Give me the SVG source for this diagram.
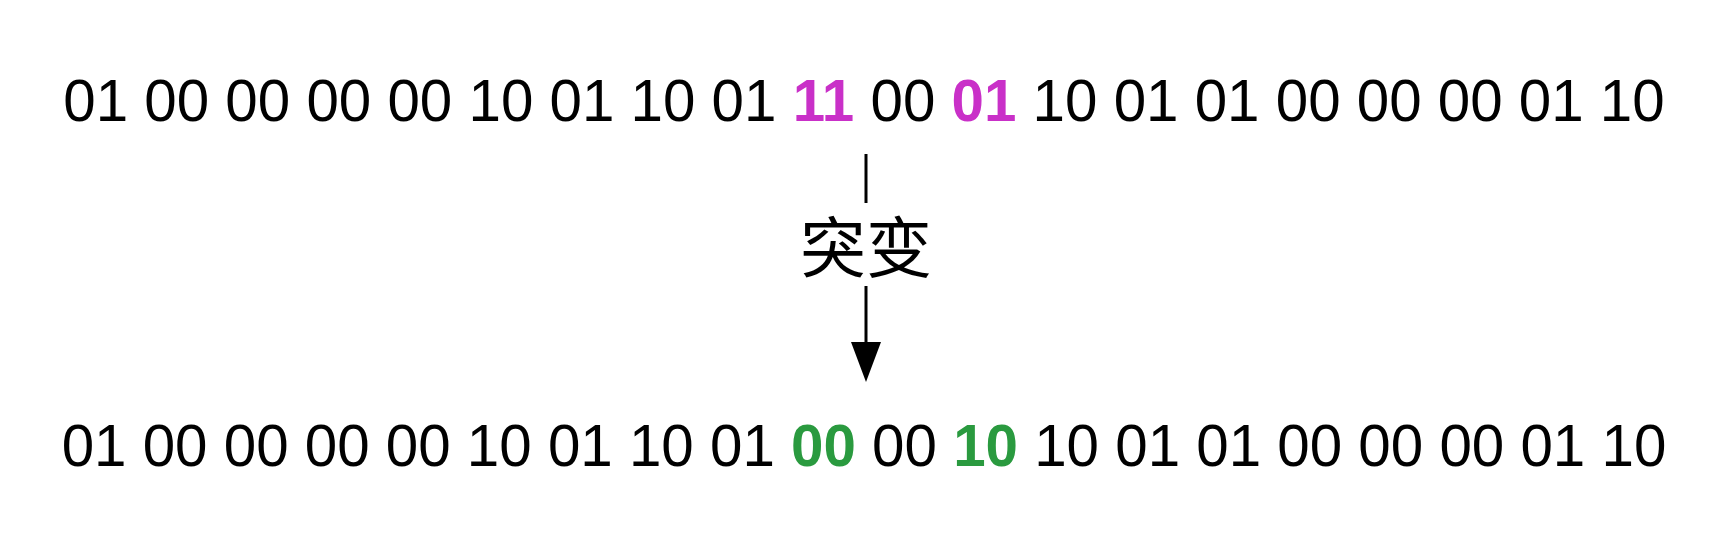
<svg xmlns="http://www.w3.org/2000/svg" width="1729" height="541" viewBox="0 0 1729 541">
<style>
.seq{font-family:"Liberation Sans",Arial,sans-serif;font-size:58.3px;fill:#000;text-anchor:middle}
.mut{fill:#c930c8;font-weight:bold}
.fix{fill:#2a9a3f;font-weight:bold}
.lbl{font-family:"Noto Sans CJK SC","Noto Sans",sans-serif;font-size:66px;fill:#000;text-anchor:middle}
.ln{stroke:#000;stroke-width:3;fill:none}
</style>
<rect width="1729" height="541" fill="#fff"/>
<g id="before">
<text class="seq" x="864" y="120.5">01 00 00 00 00 10 01 10 01 <tspan class="mut">11</tspan> 00 <tspan class="mut">01</tspan> 10 01 01 00 00 00 01 10</text>
</g>
<g id="label">
<text class="lbl" x="866" y="272">突变</text>
</g>
<g id="after">
<text class="seq" x="864" y="466">01 00 00 00 00 10 01 10 01 <tspan class="fix">00</tspan> 00 <tspan class="fix">10</tspan> 10 01 01 00 00 00 01 10</text>
</g>
<g id="connectors">
<line class="ln" x1="866" y1="154" x2="866" y2="203"/>
<line class="ln" x1="866" y1="286" x2="866" y2="344"/>
<path d="M851,342 L881,342 L866,382 Z" fill="#000"/>
</g>
</svg>
